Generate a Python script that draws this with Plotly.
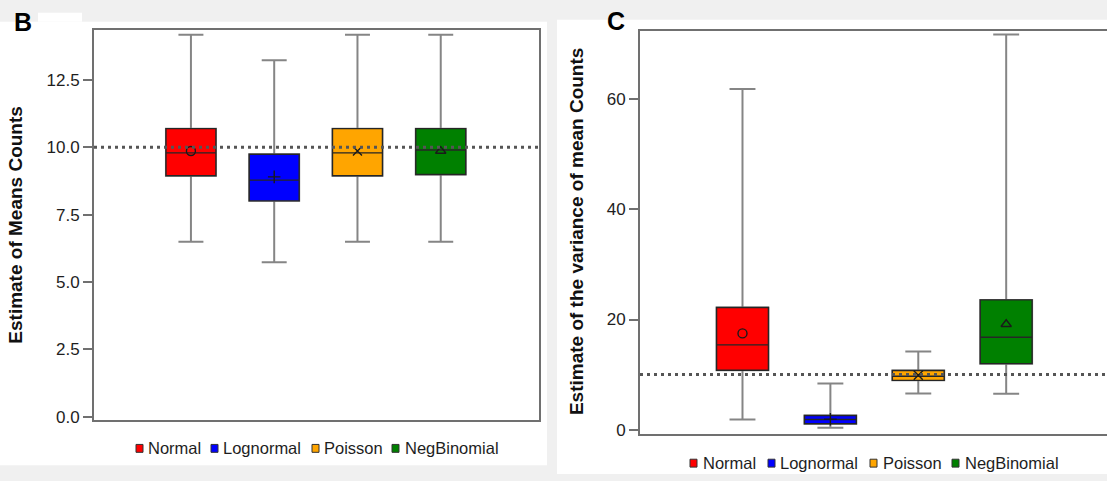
import plotly.graph_objects as go

W, H = 1107, 481

# ---------------- data ----------------
categories = ["Normal", "Lognormal", "Poisson", "NegBinomial"]
colors = ["#FF0000", "#0000FF", "#FFA500", "#008000"]
mean_symbols = ["circle-open", "cross-thin-open", "x-thin-open", "triangle-up-open"]

# Panel B: estimate of means counts
b_low = [6.49, 5.73, 6.49, 6.49]
b_q1 = [8.94, 8.01, 8.94, 8.99]
b_median = [9.79, 8.78, 9.79, 9.90]
b_q3 = [10.69, 9.74, 10.69, 10.69]
b_high = [14.18, 13.23, 14.18, 14.18]
b_mean = [9.86, 8.90, 9.86, 9.86]
b_reference = 10.0
b_ticks = [0.0, 2.5, 5.0, 7.5, 10.0, 12.5]

# Panel C: estimate of the variance of mean counts
c_low = [1.84, 0.36, 6.56, 6.5]
c_q1 = [10.79, 1.07, 8.95, 11.99]
c_median = [15.39, 1.84, 9.7, 16.77]
c_q3 = [22.19, 2.56, 10.74, 23.56]
c_high = [61.85, 8.36, 14.19, 71.75]
c_mean = [17.48, 1.9, 9.9, 19.15]
c_reference = 10.0
c_ticks = [0, 20, 40, 60]

FONT = "Liberation Sans, Arial, sans-serif"
FRAME = "#707070"


def px(x):
    return x / W


def py(y):
    return 1 - y / H


fig = go.Figure()


def add_panel(xa, ya, low, q1, med, q3, high, mean, bw):
    # whiskers (grey)
    for j, cat in enumerate(categories):
        fig.add_trace(go.Box(
            x=[j], q1=[q1[j]], median=[med[j]], q3=[q3[j]],
            lowerfence=[low[j]], upperfence=[high[j]],
            width=bw, whiskerwidth=0.5,
            line=dict(color="#858585", width=2),
            fillcolor="rgba(0,0,0,0)", showlegend=False,
            hoverinfo="skip", xaxis=xa, yaxis=ya, name=cat))
    # coloured boxes
    for j, cat in enumerate(categories):
        fig.add_trace(go.Box(
            x=[j], q1=[q1[j]], median=[med[j]], q3=[q3[j]],
            lowerfence=[q1[j]], upperfence=[q3[j]],
            width=bw, whiskerwidth=0,
            line=dict(color="#262626", width=1.4),
            fillcolor=colors[j], showlegend=False,
            xaxis=xa, yaxis=ya, name=cat))
    # mean markers
    for j, cat in enumerate(categories):
        fig.add_trace(go.Scatter(
            x=[j], y=[mean[j]], mode="markers",
            marker=dict(symbol=mean_symbols[j], size=9, color="#1a1a1a",
                        line=dict(width=1.4, color="#1a1a1a")),
            showlegend=False, xaxis=xa, yaxis=ya, name=cat + " mean"))


add_panel("x", "y", b_low, b_q1, b_median, b_q3, b_high, b_mean, 0.6)
add_panel("x2", "y2", c_low, c_q1, c_median, c_q3, c_high, c_mean, 0.59)

axis_common = dict(showgrid=False, zeroline=False, showline=True,
                   linecolor=FRAME, linewidth=2)

fig.update_layout(
    width=W, height=H,
    margin=dict(l=0, r=0, t=0, b=0),
    paper_bgcolor="#f0f0f0", plot_bgcolor="white",
    boxmode="overlay",
    font=dict(family=FONT, color="#222222"),
    xaxis=dict(domain=[px(94), px(539)], range=[-1.164, 4.18],
               showticklabels=False, ticks="", mirror=True, anchor="y",
               **axis_common),
    yaxis=dict(domain=[py(426), py(30)], range=[-0.12, 14.37],
               tickvals=b_ticks, ticktext=[f"{v:.1f}" for v in b_ticks],
               ticks="outside", ticklen=9, tickwidth=1.5, tickcolor=FRAME,
               tickfont=dict(size=17, color="#1e1e1e", family=FONT),
               mirror=True, anchor="x", **axis_common),
    xaxis2=dict(domain=[px(640), 1.0], range=[-1.166, 4.147],
                showticklabels=False, ticks="", mirror=True, anchor="y2",
                **axis_common),
    yaxis2=dict(domain=[py(440.7), py(31)], range=[-0.84, 72.47],
                tickvals=c_ticks, ticktext=[str(v) for v in c_ticks],
                ticks="outside", ticklen=9, tickwidth=1.5, tickcolor=FRAME,
                tickfont=dict(size=17, color="#1e1e1e", family=FONT),
                anchor="x2", **axis_common),
    showlegend=False,
)

shapes = [
    # white panel backgrounds
    dict(type="rect", xref="paper", yref="paper", x0=px(0), x1=px(547),
         y0=py(472), y1=py(22), fillcolor="white", line=dict(width=0), layer="below"),
    dict(type="rect", xref="paper", yref="paper", x0=px(38), x1=px(82),
         y0=py(22), y1=py(13), fillcolor="white", line=dict(width=0), layer="below"),
    dict(type="rect", xref="paper", yref="paper", x0=px(557), x1=1.0,
         y0=0, y1=py(20), fillcolor="white", line=dict(width=0), layer="below"),
    # reference lines
    dict(type="line", xref="x domain", yref="y", x0=0, x1=1,
         y0=b_reference, y1=b_reference,
         line=dict(color="#555555", width=3, dash="3px,4px"), layer="above"),
    dict(type="line", xref="x2 domain", yref="y2", x0=0, x1=1,
         y0=c_reference, y1=c_reference,
         line=dict(color="#555555", width=3, dash="3px,4px"), layer="above"),
]

annotations = [
    dict(text="Estimate of Means Counts", xref="paper", yref="paper",
         x=px(16), y=py(228), xanchor="center", yanchor="middle", textangle=-90,
         showarrow=False, font=dict(size=19, family=FONT, color="#111111", weight="bold")),
    dict(text="Estimate of the variance of mean Counts", xref="paper", yref="paper",
         x=px(576.5), y=py(235), xanchor="center", yanchor="middle", textangle=-90,
         showarrow=False, font=dict(size=19, family=FONT, color="#111111", weight="bold")),
    dict(text="B", xref="paper", yref="paper", x=px(23), y=py(22.5),
         xanchor="center", yanchor="middle", showarrow=False,
         font=dict(size=25, family=FONT, color="#000000", weight="bold")),
    dict(text="C", xref="paper", yref="paper", x=px(615.5), y=py(21.5),
         xanchor="center", yanchor="middle", showarrow=False,
         font=dict(size=25, family=FONT, color="#000000", weight="bold")),
]

# legends (one per panel)
legend_layouts = [
    dict(square_x=[136, 211, 312, 392], text_x=[148, 223, 324, 405], y=455),
    dict(square_x=[690, 768, 870, 952], text_x=[703, 780, 883, 965], y=470),
]
for lg in legend_layouts:
    for j, cat in enumerate(categories):
        sx = lg["square_x"][j]
        shapes.append(dict(type="rect", xref="paper", yref="paper",
                           x0=px(sx), x1=px(sx + 7), y0=py(lg["y"] + 4), y1=py(lg["y"] - 4),
                           fillcolor=colors[j], line=dict(color="#333333", width=1)))
        annotations.append(dict(text=cat, xref="paper", yref="paper",
                                x=px(lg["text_x"][j]), y=py(lg["y"]),
                                xanchor="left", yanchor="middle", showarrow=False,
                                xshift=-2,
                                font=dict(size=16.5, family=FONT, color="#1e1e1e")))

fig.update_layout(shapes=shapes, annotations=annotations)

fig.write_html("out.html",
               config={"displayModeBar": False},
               post_script="document.body.style.margin='0';document.body.style.overflow='hidden';")
